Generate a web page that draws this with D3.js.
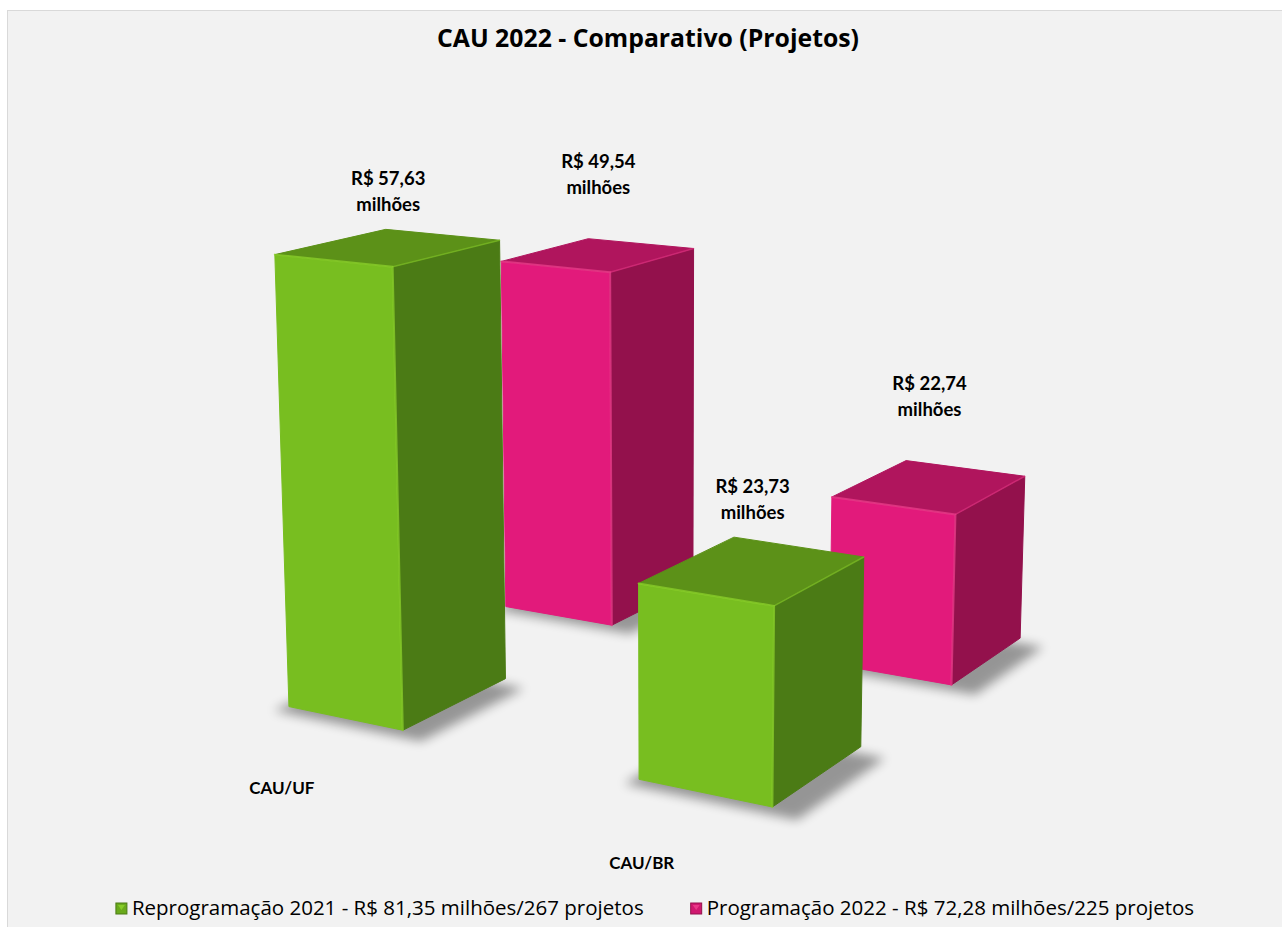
<!DOCTYPE html>
<html>
<head>
<meta charset="utf-8">
<script src="https://cdn.jsdelivr.net/npm/d3@7"></script>
<style>
  body { margin: 0; background: #fff; }
  text { font-family: "Open Sans", Lato, sans-serif; fill: #000; }
  .lato { font-family: Lato, "Open Sans", sans-serif; }
</style>
</head>
<body>
<div id="chart"></div>
<script>
// data
const categories = ["CAU/UF", "CAU/BR"];
const seriesNames = [
  "Reprogramação 2021 - R$ 81,35 milhões/267 projetos",
  "Programação 2022 - R$ 72,28 milhões/225 projetos"
];
const reprogramacao2021 = [57.63, 23.73];
const programacao2022 = [49.54, 22.74];
const seriesValues = [reprogramacao2021, programacao2022];
const title = "CAU 2022 - Comparativo (Projetos)";

const W = 1282, H = 927;

// face colours: front, side, top, edge highlight
const palette = [
  { front: "#78be20", side: "#4b7b15", top: "#5c9118", edge: "#8fd52c", legend: "#6aaa1c" },
  { front: "#e21a7b", side: "#93114c", top: "#b0155d", edge: "#f0408f", legend: "#d0186f" }
];

const svg = d3.select("#chart").append("svg")
  .attr("width", W)
  .attr("height", H)
  .attr("viewBox", `0 0 ${W} ${H}`);

const defs = svg.append("defs");
defs.append("filter")
  .attr("id", "soft")
  .attr("x", "-50%").attr("y", "-50%").attr("width", "200%").attr("height", "200%")
  .append("feGaussianBlur").attr("stdDeviation", 5.5);

// chart area
svg.append("rect")
  .attr("x", 7.5).attr("y", 10.5)
  .attr("width", W + 10).attr("height", H + 10)
  .attr("fill", "#f2f2f2")
  .attr("stroke", "#d9d9d9");

svg.append("text")
  .attr("x", 648).attr("y", 47)
  .attr("text-anchor", "middle")
  .style("font-size", "24.8px").style("font-weight", 700)
  .text(title);

// world scales (x = category, z = series depth, y = value)
const xScale = d3.scaleBand().domain(categories).range([0, 3.92]).paddingInner(0.6575);
const zScale = d3.scaleBand().domain(d3.range(seriesNames.length)).range([0, 4.12]).paddingInner(0.539);
const yScale = d3.scaleLinear().domain([0, 60]).range([0, 3.42]);

// camera: looks at the floor centre from the front right, slightly tilted down
const rad = Math.PI / 180;
const yaw = 30 * rad, elev = 18.4 * rad, pitch = 12 * rad;
const cosT = Math.cos(yaw), sinT = Math.sin(yaw);
const cosP = Math.cos(pitch), sinP = Math.sin(pitch);
const camDist = 20, focal = 2660;
const target = [d3.mean(xScale.range()), 0, d3.mean(zScale.range())];
const camPos = [
  target[0] + camDist * sinT * Math.cos(elev),
  target[1] + camDist * Math.sin(elev),
  target[2] - camDist * cosT * Math.cos(elev)
];
const screenTarget = [669, 671];

function rawProject([X, Y, Z]) {
  const dx = X - camPos[0], dy = Y - camPos[1], dz = Z - camPos[2];
  const x1 = dx * cosT + dz * sinT;
  const z1 = -dx * sinT + dz * cosT;
  const y2 = dy * cosP + z1 * sinP;
  const z2 = -dy * sinP + z1 * cosP;
  return [focal * x1 / z2, -focal * y2 / z2, z2];
}
const t0 = rawProject(target);
function project(p) {
  const r = rawProject(p);
  return [r[0] - t0[0] + screenTarget[0], r[1] - t0[1] + screenTarget[1], r[2]];
}

const line = d3.line();

// build bars
const bars = [];
seriesValues.forEach((vals, s) => {
  vals.forEach((v, c) => {
    const x0 = xScale(categories[c]), x1 = x0 + xScale.bandwidth();
    const z0 = zScale(s), z1 = z0 + zScale.bandwidth();
    const h = yScale(v);
    bars.push({ s, c, v, x0, x1, z0, z1, h,
      depth: project([(x0 + x1) / 2, h / 2, (z0 + z1) / 2])[2] });
  });
});

const ground = svg.append("g");
const barsG = svg.append("g");
const labelsG = svg.append("g");

// soft shadows on the floor
bars.forEach(b => {
  const e = 0.12;
  const pts = [
    [b.x0 - e + 0.08, 0, b.z0 - e],
    [b.x1 + e + 0.12, 0, b.z0 - e],
    [b.x1 + e + 0.12, 0, b.z1 - e],
    [b.x0 - e + 0.08, 0, b.z1 - e]
  ].map(p => project(p).slice(0, 2));
  ground.append("path")
    .attr("d", line(pts) + "Z")
    .attr("fill", "#000")
    .attr("opacity", 0.38)
    .attr("filter", "url(#soft)");
});

// bars, far to near
bars.slice().sort((a, b) => b.depth - a.depth).forEach(b => {
  const col = palette[b.s];
  const P = p => project(p).slice(0, 2);
  const front = [[b.x0, 0, b.z0], [b.x1, 0, b.z0], [b.x1, b.h, b.z0], [b.x0, b.h, b.z0]].map(P);
  const side = [[b.x1, 0, b.z0], [b.x1, 0, b.z1], [b.x1, b.h, b.z1], [b.x1, b.h, b.z0]].map(P);
  const top = [[b.x0, b.h, b.z0], [b.x1, b.h, b.z0], [b.x1, b.h, b.z1], [b.x0, b.h, b.z1]].map(P);
  const g = barsG.append("g");
  g.append("path").attr("d", line(front) + "Z").attr("fill", col.front)
    .attr("stroke", col.front).attr("stroke-width", 1).attr("stroke-linejoin", "round");
  g.append("path").attr("d", line(side) + "Z").attr("fill", col.side)
    .attr("stroke", col.side).attr("stroke-width", 1).attr("stroke-linejoin", "round");
  g.append("path").attr("d", line(top) + "Z").attr("fill", col.top)
    .attr("stroke", col.top).attr("stroke-width", 1).attr("stroke-linejoin", "round");
  // bevel highlights
  g.append("path")
    .attr("d", line([P([b.x0, b.h, b.z0]), P([b.x1, b.h, b.z0]), P([b.x1, 0, b.z0])]))
    .attr("fill", "none").attr("stroke", col.edge).attr("stroke-width", 2)
    .attr("stroke-linecap", "round").attr("stroke-linejoin", "round").attr("opacity", 0.7);
  g.append("path")
    .attr("d", line([P([b.x1, b.h, b.z0]), P([b.x1, b.h, b.z1])]))
    .attr("fill", "none").attr("stroke", col.edge).attr("stroke-width", 1.5)
    .attr("stroke-linecap", "round").attr("opacity", 0.45);
  b.topPts = top;
  b.front = front;
});

// data labels
const fmt = v => "R$ " + d3.format(".2f")(v).replace(".", ",");
const labelGap = [44, 71];
bars.forEach(b => {
  const cx = d3.mean(b.topPts, p => p[0]);
  const topY = d3.min(b.topPts, p => p[1]);
  const t = labelsG.append("text")
    .attr("class", "lato")
    .attr("text-anchor", "middle")
    .style("font-size", "18.5px").style("font-weight", 700);
  t.append("tspan").attr("x", cx).attr("y", topY - labelGap[b.s]).text(fmt(b.v));
  t.append("tspan").attr("x", cx).attr("y", topY - labelGap[b.s] + 26).text("milhões");
});

// category labels
categories.forEach((cat, c) => {
  const b = bars.find(d => d.c === c && d.s === 0);
  const fx = (b.front[0][0] + b.front[1][0]) / 2;
  const fy = (b.front[0][1] + b.front[1][1]) / 2;
  labelsG.append("text")
    .attr("class", "lato")
    .attr("x", fx - 64).attr("y", fy + 76)
    .attr("text-anchor", "middle")
    .style("font-size", "17px").style("font-weight", 700)
    .text(cat);
});

// legend
const legend = svg.append("g");
const items = legend.selectAll("g").data(seriesNames).join("g");
items.append("rect")
  .attr("y", -12).attr("width", 11).attr("height", 11)
  .attr("fill", (d, i) => palette[i].legend)
  .attr("stroke", (d, i) => palette[i].side).attr("stroke-width", 1);
items.append("path")
  .attr("d", "M2,-10 L9,-10 L5.5,-5 Z")
  .attr("fill", (d, i) => palette[i].edge).attr("opacity", 0.8);
items.append("text")
  .attr("x", 16).attr("y", 0)
  .style("font-size", "20.5px")
  .text(d => d);
let xPos = 0;
const widths = [];
items.each(function() { widths.push(this.getBBox().width); });
items.attr("transform", (d, i) => {
  const x = xPos;
  xPos += widths[i] + 47;
  return `translate(${x},0)`;
});
const total = xPos - 47;
legend.attr("transform", `translate(${655 - total / 2},915)`);
</script>
</body>
</html>
